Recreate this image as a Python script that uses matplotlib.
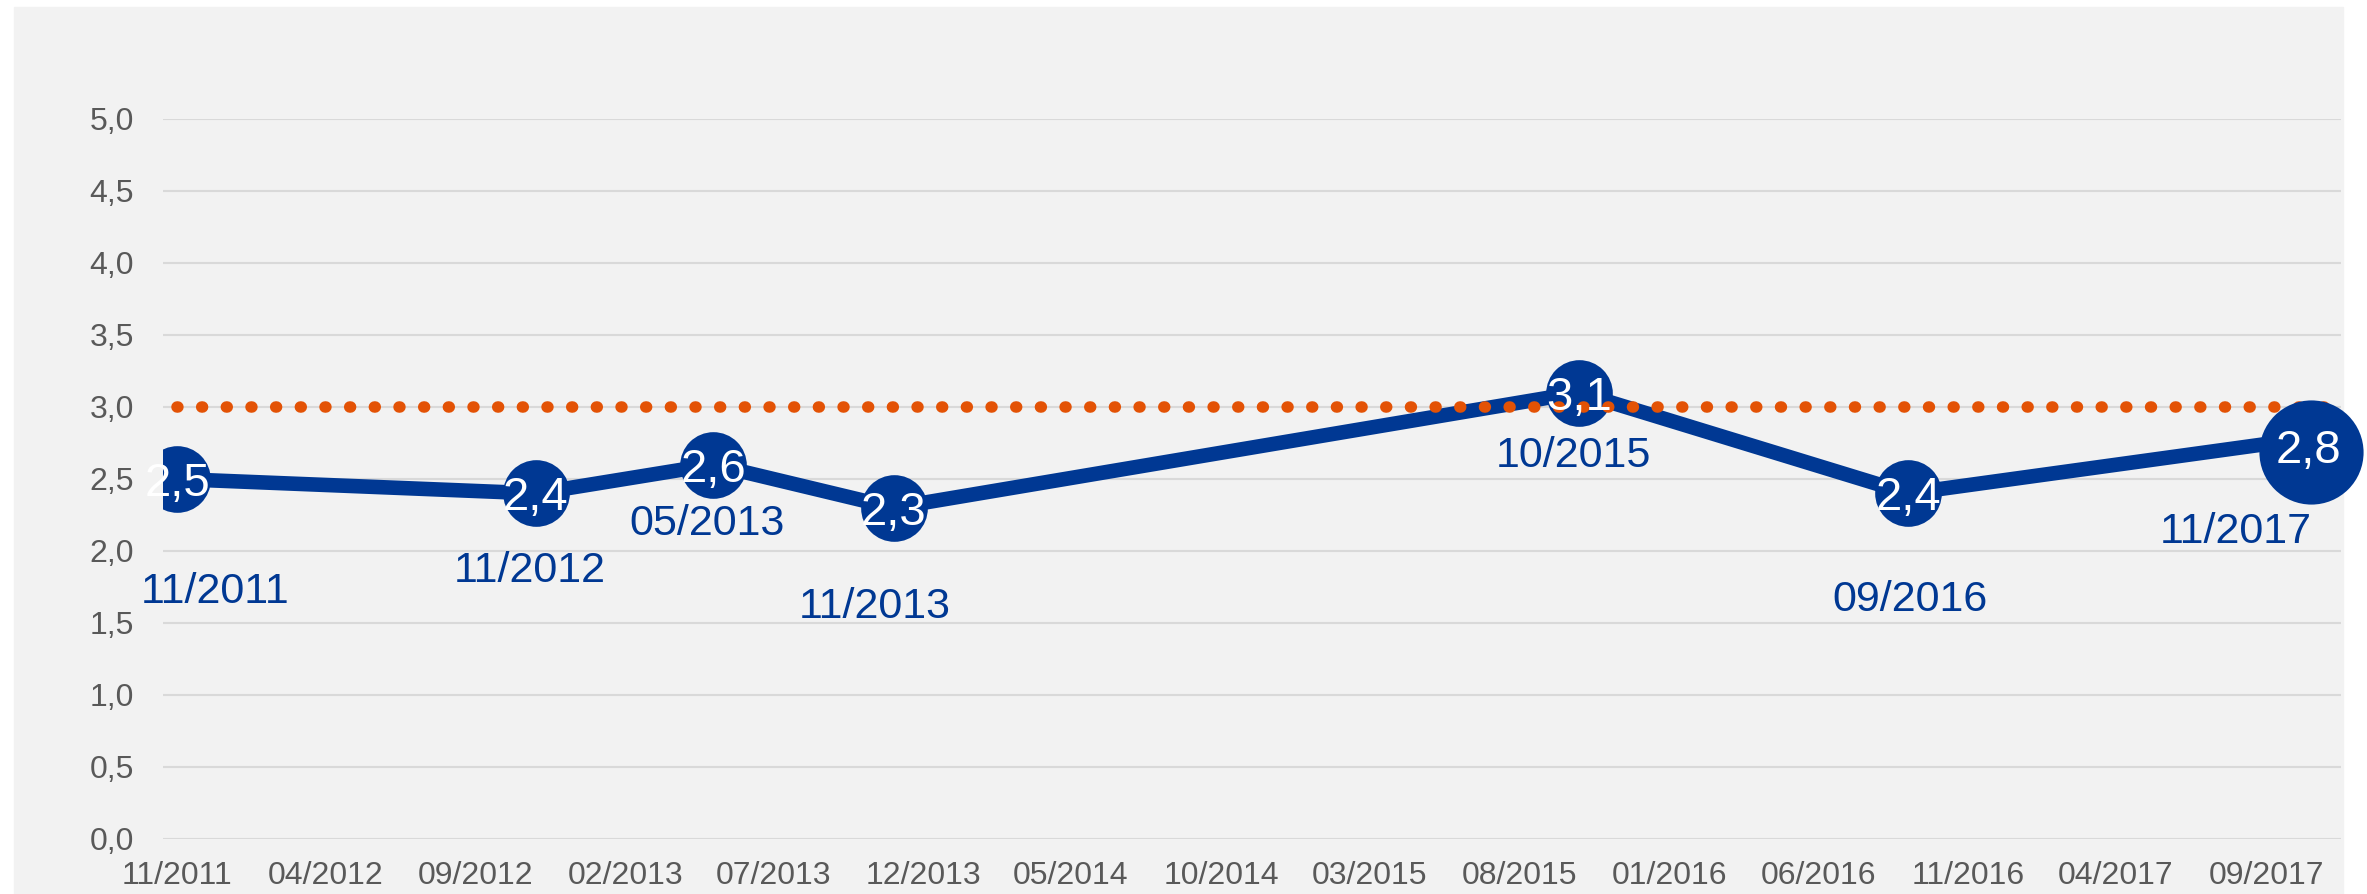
import numpy as np
import pandas as pd
import matplotlib
matplotlib.use('Agg')
import matplotlib.pyplot as plt
import matplotlib.dates as mdates
from matplotlib.patches import Rectangle
from matplotlib.ticker import FixedLocator, FuncFormatter
from matplotlib.transforms import offset_copy

plt.rcParams['font.family'] = ['Liberation Sans', 'DejaVu Sans']

# data
dates = ['2011-11-01', '2012-11-01', '2013-05-01', '2013-11-01',
         '2015-10-01', '2016-09-01', '2017-11-01']
date_labels = ['11/2011', '11/2012', '05/2013', '11/2013',
               '10/2015', '09/2016', '11/2017']
values = [2.5, 2.4, 2.6, 2.3, 3.1, 2.4, 2.8]
target = [3.0, 3.0, 3.0, 3.0, 3.0, 3.0, 3.0]
tick_dates = pd.date_range('2011-11-01', '2017-09-01', freq='5MS')
y_ticks = [0.0, 0.5, 1.0, 1.5, 2.0, 2.5, 3.0, 3.5, 4.0, 4.5, 5.0]

BLUE = '#003893'
ORANGE = '#E35205'
GRID = '#D9D9D9'
TICK = '#595959'

# label offsets in pixels (x, y) relative to each point
date_off = [(38, -124), (-6, -89), (-6, -70), (-19, -110),
            (-5, -74), (2, -118), (-90, -107)]
val_off = [(0, -17)] * 6 + [(-17, -27)]

x = mdates.date2num(pd.to_datetime(dates))

W, H = 2367, 894
fig = plt.figure(figsize=(W / 100, H / 100), dpi=100)
fig.patches.append(Rectangle((14 / W, 0), (2343 - 14) / W, (H - 7) / H,
                             transform=fig.transFigure, color='#F2F2F2', zorder=-10))

ax = fig.add_axes([163 / W, 55 / H, 2178 / W, 720 / H])
ax.set_facecolor('none')
ax.set_ylim(0, 5)
ax.set_xlim(x[0] - 14.3, x[0] + 2207.5)

ax.plot(x, values, color=BLUE, lw=10.5, zorder=2, solid_capstyle='round')
ax.plot(x, target, color=ORANGE, lw=8.3, linestyle=(0, (0.08, 2.06)),
        dash_capstyle='round', zorder=4)

# label bubbles
ax.plot(x[:-1], values[:-1], 'o', ms=48, color=BLUE, mew=0, zorder=3)
big = offset_copy(ax.transData, fig=fig, x=-15, y=-16, units='dots')
ax.plot(x[-1:], values[-1:], 'o', ms=75, color=BLUE, mew=0, transform=big,
        zorder=5, clip_on=False)

for i, v in enumerate(values):
    ax.annotate(f"{v:.1f}".replace('.', ','), (x[i], v), xytext=val_off[i],
                textcoords='offset pixels', ha='center', va='baseline',
                color='white', fontsize=34, zorder=6)
    ax.annotate(date_labels[i], (x[i], v), xytext=date_off[i],
                textcoords='offset pixels', ha='center', va='baseline',
                color=BLUE, fontsize=31, zorder=6)

ax.xaxis.set_major_locator(FixedLocator(mdates.date2num(tick_dates)))
ax.xaxis.set_major_formatter(mdates.DateFormatter('%m/%Y'))
ax.yaxis.set_major_locator(FixedLocator(y_ticks))
ax.yaxis.set_major_formatter(FuncFormatter(lambda v, p: f"{v:.1f}".replace('.', ',')))
ax.tick_params(axis='both', length=0, labelsize=23, colors=TICK)
ax.tick_params(axis='y', pad=21)
ax.tick_params(axis='x', pad=16)
ax.grid(axis='y', color=GRID, lw=1.5, zorder=0)
ax.set_axisbelow(True)
for s in ax.spines.values():
    s.set_visible(False)

fig.savefig('out.png', dpi=100, facecolor='white')
